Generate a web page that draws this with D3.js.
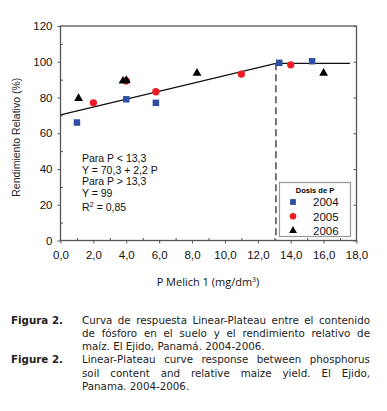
<!DOCTYPE html>
<html>
<head>
<meta charset="utf-8">
<script src="https://cdn.jsdelivr.net/npm/d3@7"></script>
<style>
  body { margin: 0; background: #fff; }
  svg { display: block; }
</style>
</head>
<body>
<svg id="chart" width="387" height="411"></svg>
<script>
// data
const p2004 = [[1.0, 66], [4.0, 79], [5.8, 77], [13.3, 99.4], [15.3, 100.3]];
const p2005 = [[2.0, 77], [4.0, 89.3], [5.8, 83.2], [11.0, 93.1], [14.0, 98.3]];
const p2006 = [[1.1, 79.5], [3.8, 89.2], [4.0, 89.6], [8.3, 93.6], [16.0, 93.6]];
const years = ["2004", "2005", "2006"];
const xTicks = [0, 2, 4, 6, 8, 10, 12, 14, 16, 18];
const yTicks = [0, 20, 40, 60, 80, 100, 120];
const fitLine = [[0, 70.3], [13.1, 99.1], [17.6, 99.1]];
const breakX = 13.1;
const eqLines = ["Para P < 13,3", "Y = 70,3 + 2,2 P", "Para P > 13,3", "Y = 99"];
const captionEs = ["Curva de respuesta Linear-Plateau entre el contenido",
                   "de fósforo en el suelo y el rendimiento relativo de",
                   "maíz. El Ejido, Panamá. 2004-2006."];
const captionEn = ["Linear-Plateau curve response between phosphorus",
                   "soil content and relative maize yield. El Ejido,",
                   "Panama. 2004-2006."];

const svg = d3.select("#chart");
const L = 60.5, R = 356.5, T = 26, B = 240.5;
const x = d3.scaleLinear().domain([0, 18]).range([L, R]);
const y = d3.scaleLinear().domain([0, 120]).range([B, T]);
const axisCol = "#555";
const tickFont = "'Liberation Sans', Arial, sans-serif";

// frame
svg.append("rect").attr("x", L).attr("y", T).attr("width", R - L).attr("height", B - T)
  .attr("fill", "none").attr("stroke", axisCol).attr("stroke-width", 1.3);

// x axis
const xa = svg.append("g").attr("transform", `translate(0,${B})`)
  .call(d3.axisBottom(x).tickValues(xTicks).tickSize(3).tickFormat(d => d3.format(".1f")(d).replace(".", ",")));
xa.select(".domain").remove();
xa.selectAll("line").attr("stroke", axisCol);
xa.selectAll("text").attr("font-family", tickFont).attr("font-size", 11.5).attr("fill", "#111").attr("dy", "1.05em");
const xm = svg.append("g").attr("transform", `translate(0,${B})`)
  .call(d3.axisTop(x).tickValues(d3.range(1, 18, 2)).tickSize(2.5).tickFormat(""));
xm.select(".domain").remove();
xm.selectAll("line").attr("stroke", axisCol);

// y axis
const ya = svg.append("g").attr("transform", `translate(${L},0)`)
  .call(d3.axisLeft(y).tickValues(yTicks).tickSize(3).tickPadding(5));
ya.select(".domain").remove();
ya.selectAll("line").attr("stroke", axisCol);
ya.selectAll("text").attr("font-family", tickFont).attr("font-size", 11.5).attr("fill", "#111");
const ym = svg.append("g").attr("transform", `translate(${L},0)`)
  .call(d3.axisRight(y).tickValues(d3.range(10, 120, 20)).tickSize(2.5).tickFormat(""));
ym.select(".domain").remove();
ym.selectAll("line").attr("stroke", axisCol);
const yr = svg.append("g").attr("transform", `translate(${R},0)`)
  .call(d3.axisLeft(y).tickValues(yTicks).tickSize(3).tickFormat(""));
yr.select(".domain").remove();
yr.selectAll("line").attr("stroke", axisCol);

// axis titles
svg.append("text").attr("transform", `translate(20,${(T + B) / 2 + 4}) rotate(-90)`)
  .attr("text-anchor", "middle").attr("font-family", tickFont).attr("font-size", 10.5)
  .attr("fill", "#222").text("Rendimiento Relativo (%)");
const xt = svg.append("text").attr("x", 208).attr("y", 286).attr("text-anchor", "middle")
  .attr("font-family", "'Open Sans', sans-serif").attr("font-size", 11).attr("fill", "#111");
xt.append("tspan").text("P Melich 1 (mg/dm");
xt.append("tspan").attr("font-size", 7).attr("dy", -4).text("3");
xt.append("tspan").attr("dy", 4).text(")");

// fitted linear-plateau
svg.append("path").datum(fitLine)
  .attr("d", d3.line().x(d => x(d[0])).y(d => y(d[1])))
  .attr("fill", "none").attr("stroke", "#111").attr("stroke-width", 1.4);
svg.append("line").attr("x1", x(breakX)).attr("x2", x(breakX))
  .attr("y1", y(99.1)).attr("y2", B)
  .attr("stroke", "#555").attr("stroke-width", 1.6).attr("stroke-dasharray", "7,4");

// points
const sym = {
  "2004": { data: p2004, type: d3.symbolSquare, size: 42, color: "#2e4fa6" },
  "2005": { data: p2005, type: d3.symbolCircle, size: 42, color: "#ee1c24" },
  "2006": { data: p2006, type: d3.symbolTriangle, size: 34, color: "#000" }
};
years.forEach(k => {
  const s = sym[k];
  svg.append("g").selectAll("path").data(s.data).join("path")
    .attr("transform", d => `translate(${x(d[0])},${y(d[1])})`)
    .attr("d", d3.symbol().type(s.type).size(s.size))
    .attr("fill", s.color);
});

// equation text
const eq = svg.append("g").attr("font-family", tickFont).attr("font-size", 10.5).attr("fill", "#111");
eqLines.forEach((t, i) => eq.append("text").attr("x", 82).attr("y", 162 + i * 11.6).text(t));
const r2 = eq.append("text").attr("x", 82).attr("y", 211);
r2.append("tspan").text("R");
r2.append("tspan").attr("font-size", 7.5).attr("dy", -4).text("2");
r2.append("tspan").attr("dy", 4).text(" = 0,85");

// legend
const lg = svg.append("g");
lg.append("rect").attr("x", 279.5).attr("y", 182.5).attr("width", 71).attr("height", 54)
  .attr("fill", "#fff").attr("stroke", "#999").attr("stroke-width", 1.2);
lg.append("text").attr("x", 315).attr("y", 192.5).attr("text-anchor", "middle")
  .attr("font-family", tickFont).attr("font-weight", "bold").attr("font-size", 7.5).text("Dosis de P");
years.forEach((k, i) => {
  const yy = 202 + i * 14.3;
  lg.append("path").attr("transform", `translate(293,${yy})`)
    .attr("d", d3.symbol().type(sym[k].type).size(sym[k].size * 0.8)).attr("fill", sym[k].color);
  lg.append("text").attr("x", 313).attr("y", yy + 4.3).attr("font-family", tickFont)
    .attr("font-size", 11.5).attr("fill", "#111").text(k);
});

// caption (justified lines get extra word spacing)
const capFont = "'DejaVu Sans', Verdana, sans-serif";
const cap = svg.append("g").attr("font-family", capFont).attr("font-size", 10.3).attr("fill", "#222");
function block(label, lines, y0) {
  cap.append("text").attr("x", 11).attr("y", y0).attr("font-weight", "bold").text(label);
  lines.forEach((t, i) => {
    const tx = cap.append("text").attr("x", 82).attr("y", y0 + i * 13.3).text(t);
    if (i < lines.length - 1) {
      const w = tx.node().getComputedTextLength();
      const gaps = t.split(" ").length - 1;
      tx.attr("word-spacing", (288 - w) / gaps);
    }
  });
}
block("Figura 2.", captionEs, 323.5);
block("Figure 2.", captionEn, 363.3);
</script>
</body>
</html>
